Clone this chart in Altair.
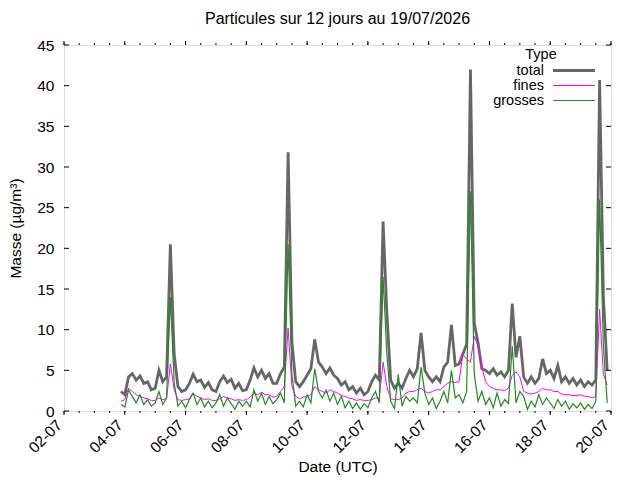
import altair as alt
import pandas as pd

# ---- data (3-hourly readings, first at 03-07 21:00 UTC) ----
total = [
    2.4,
    2.0, 4.2, 4.6, 3.8, 4.3, 3.4, 3.6, 2.6,     # 04-07
    2.8, 5.0, 3.6, 4.2, 20.5, 7.0, 3.0, 2.4,    # 05-07
    2.6, 3.4, 4.5, 3.6, 3.8, 2.9, 3.5, 2.6,     # 06-07
    2.4, 3.6, 4.3, 3.5, 3.9, 2.8, 3.4, 2.5,     # 07-07
    2.6, 3.8, 5.3, 4.2, 5.0, 4.0, 4.6, 3.4,     # 08-07
    3.4, 4.6, 5.4, 31.8, 8.5, 3.6, 3.0, 3.6,    # 09-07
    4.4, 5.2, 8.8, 6.0, 5.4, 4.6, 5.3, 4.4,     # 10-07
    4.0, 3.2, 3.6, 2.6, 3.0, 2.2, 2.8, 2.0,     # 11-07
    2.4, 3.6, 4.4, 3.8, 23.3, 12.0, 3.8, 2.8,   # 12-07
    3.4, 2.8, 4.0, 5.0, 4.2, 5.2, 9.6, 5.0,     # 13-07
    4.2, 3.6, 4.2, 3.6, 5.4, 6.0, 10.6, 5.6,    # 14-07
    5.8, 7.0, 8.2, 42.0, 10.8, 8.4, 5.2, 5.0,   # 15-07
    4.6, 5.2, 4.4, 4.8, 4.2, 5.0, 13.2, 6.6,    # 16-07
    9.2, 4.2, 3.4, 4.2, 3.4, 4.0, 6.4, 4.6,     # 17-07
    5.0, 4.0, 5.6, 3.6, 4.2, 3.4, 4.0, 3.2,     # 18-07
    3.8, 3.0, 3.6, 3.2, 3.8, 40.7, 14.0, 5.0,   # 19-07
]
fines = [
    1.2,
    1.4, 2.8, 2.4, 2.0, 1.8, 1.6, 1.5, 1.3,
    1.3, 1.6, 1.4, 1.5, 5.8, 2.6, 1.4, 1.3,
    1.4, 1.5, 2.2, 1.8, 1.6, 1.4, 1.5, 1.3,
    1.3, 1.5, 1.8, 1.6, 1.5, 1.3, 1.4, 1.3,
    1.4, 1.7, 2.2, 2.0, 2.3, 2.0, 2.0, 1.7,
    1.8, 2.4, 3.0, 10.2, 3.0, 1.8, 1.5, 1.7,
    1.8, 2.0, 3.0, 2.6, 2.4, 2.2, 2.6, 2.4,
    2.2, 1.9, 1.8, 1.6, 1.5, 1.3, 1.4, 1.3,
    1.3, 1.4, 1.6, 1.6, 6.0, 3.0, 1.5, 1.4,
    1.4, 1.6, 2.2, 2.4, 2.4, 2.6, 2.8, 2.4,
    2.2, 2.4, 2.6, 2.6, 3.0, 3.4, 3.6, 3.5,
    3.6, 7.0, 6.4, 6.0, 9.2, 8.0, 5.4, 3.6,
    3.0, 2.8, 2.6, 2.6, 2.5, 2.8, 4.4, 4.8,
    4.2, 2.4, 2.2, 2.1, 2.2, 2.4, 2.8, 2.6,
    2.6, 2.4, 2.4, 2.1, 2.0, 2.0, 1.9, 1.9,
    2.0, 1.8, 1.8, 1.6, 1.8, 12.5, 4.5, 3.2,
]
grosses = [
    0.8,
    0.5, 2.6, 1.8, 1.0, 2.0, 0.8, 1.4, 0.6,
    1.0, 2.4, 0.8, 1.6, 14.0, 3.5, 0.6, 1.2,
    0.4, 1.4, 2.2, 0.8, 1.6, 0.5, 1.2, 0.4,
    1.0, 2.0, 0.6, 1.6, 0.9, 0.2, 1.2, 0.6,
    1.2, 0.5, 2.6, 1.2, 2.2, 0.8, 1.8, 0.9,
    1.4, 2.2, 1.0, 20.5, 4.5, 0.6, 1.2, 0.5,
    2.0, 1.0, 5.2, 2.4, 1.6, 2.6, 1.2, 2.2,
    0.8, 1.8, 0.4, 1.2, 0.3, 1.0, 0.2, 0.9,
    0.4, 1.6, 2.4, 1.0, 16.5, 7.0, 1.2, 0.3,
    4.5, 0.6, 1.8, 1.2, 1.6, 1.0, 5.4, 2.2,
    0.8, 1.6, 0.3, 1.2, 2.4, 1.0, 5.0, 1.6,
    2.0, 1.0, 2.4, 27.0, 4.6, 1.2, 2.4, 0.8,
    1.6, 0.4, 2.2, 0.6, 1.4, 0.9, 8.0, 1.0,
    2.4, 1.8, 0.2, 1.2, 0.5, 2.0, 0.8, 1.6,
    1.0, 0.3, 1.4, 0.6, 1.2, 0.2, 0.9, 0.4,
    1.0, 0.2, 0.8, 0.3, 1.2, 26.0, 8.0, 1.0,
]
series_names = ["total", "fines", "grosses"]
series_colors = ["#666666", "#ff00ff", "#228b22"]
series_widths = [2.8, 1.0, 1.2]
y_ticks = [0, 5, 10, 15, 20, 25, 30, 35, 40, 45]
major_days = [2, 4, 6, 8, 10, 12, 14, 16, 18, 20]

FONT = "Liberation Sans"
FS = 15.5
LFS = 14.5
W, H = 547, 366

times = pd.date_range("2026-07-03 21:00", periods=len(total), freq="3h").strftime("%Y-%m-%dT%H:%M:%SZ")
df = pd.DataFrame({"t": times, "total": total, "fines": fines, "grosses": grosses})

major_df = pd.DataFrame({"t": [f"2026-07-{d:02d}T00:00:00Z" for d in major_days]})
minor_df = pd.DataFrame({"t": pd.date_range("2026-07-02 00:00", "2026-07-20 00:00", freq="12h").strftime("%Y-%m-%dT%H:%M:%SZ")})
ytick_df = pd.DataFrame({"v": y_ticks})
one_df = pd.DataFrame({"k": [0]})

xscale = alt.Scale(type="utc",
                   domain=[alt.DateTime(year=2026, month=7, date=2, utc=True),
                           alt.DateTime(year=2026, month=7, date=20, utc=True)])
yscale = alt.Scale(domain=[0, 45], nice=False, zero=False)

XT = "Date (UTC)"
YT = "Masse (µg/m³)"

x_axis = alt.Axis(
    values=[alt.DateTime(year=2026, month=7, date=d, utc=True) for d in major_days],
    labelExpr="utcFormat(datum.value, '%d-%m')",
    labelAngle=315, labelAlign="right", labelBaseline="middle",
    labelOffset=-5, labelPadding=11,
    labelFont=FONT, labelFontSize=FS, labelColor="black",
    ticks=False, tickSize=0, domain=False, grid=False,
    title=XT, titleFont=FONT, titleFontSize=FS, titleFontWeight="normal",
    titleColor="black", titleX=W / 2, titleY=55, titleBaseline="middle",
)
y_axis = alt.Axis(
    values=y_ticks,
    labelFont=FONT, labelFontSize=FS, labelColor="black", labelPadding=10,
    ticks=False, tickSize=0, domain=False, grid=False,
    title=YT, titleFont=FONT, titleFontSize=FS, titleFontWeight="normal",
    titleColor="black", titleX=-49, titleY=H / 2, titleBaseline="middle", titleAngle=270,
)


def X(field):
    return alt.X(field, scale=xscale, axis=x_axis, title=XT)


def Y(field):
    return alt.Y(field, scale=yscale, axis=y_axis, title=YT)


layers = []
for name, col, sw in zip(series_names, series_colors, series_widths):
    layers.append(
        alt.Chart(df).mark_line(color=col, strokeWidth=sw, clip=True).encode(
            x=X("t:T"), y=Y(f"{name}:Q"))
    )

# x ticks (outward, bottom and top), y ticks (inward, left and right)
for df_t, ln in ((major_df, 4), (minor_df, 2)):
    layers.append(alt.Chart(df_t).mark_rule(color="black", strokeWidth=1).encode(
        x=X("t:T"), y=alt.value(H), y2=alt.value(H + ln)))
    layers.append(alt.Chart(df_t).mark_rule(color="black", strokeWidth=1).encode(
        x=X("t:T"), y=alt.value(0), y2=alt.value(-ln)))
layers.append(alt.Chart(ytick_df).mark_rule(color="black", strokeWidth=1).encode(
    y=Y("v:Q"), x=alt.value(0), x2=alt.value(5)))
layers.append(alt.Chart(ytick_df).mark_rule(color="black", strokeWidth=1).encode(
    y=Y("v:Q"), x=alt.value(W), x2=alt.value(W - 5)))

# legend in gnuplot style
layers.append(alt.Chart(one_df).mark_text(
    text="Type", font=FONT, fontSize=LFS, fontWeight="normal", align="center", baseline="middle",
    color="black").encode(x=alt.value(477), y=alt.value(10)))
for i, (name, col, sw) in enumerate(zip(series_names, series_colors, series_widths)):
    yy = 25.5 + 15 * i
    layers.append(alt.Chart(one_df).mark_text(
        text=name, font=FONT, fontSize=LFS, fontWeight="normal", align="right", baseline="middle",
        color="black").encode(x=alt.value(480), y=alt.value(yy)))
    layers.append(alt.Chart(one_df).mark_rule(color=col, strokeWidth=sw).encode(
        x=alt.value(489), x2=alt.value(531), y=alt.value(yy)))

chart = alt.layer(*layers).properties(
    width=W, height=H,
    title=alt.TitleParams("Particules sur 12 jours au 19/07/2026", font=FONT, fontSize=16,
                          fontWeight="normal", color="black", anchor="middle", offset=11),
    autosize=alt.AutoSizeParams(type="none"),
    padding={"left": 56, "top": 37, "right": 20, "bottom": 72},
).configure_view(stroke="black", strokeWidth=1).configure(background="white")

chart.save("out.html", embed_options={"renderer": "svg", "actions": False})
